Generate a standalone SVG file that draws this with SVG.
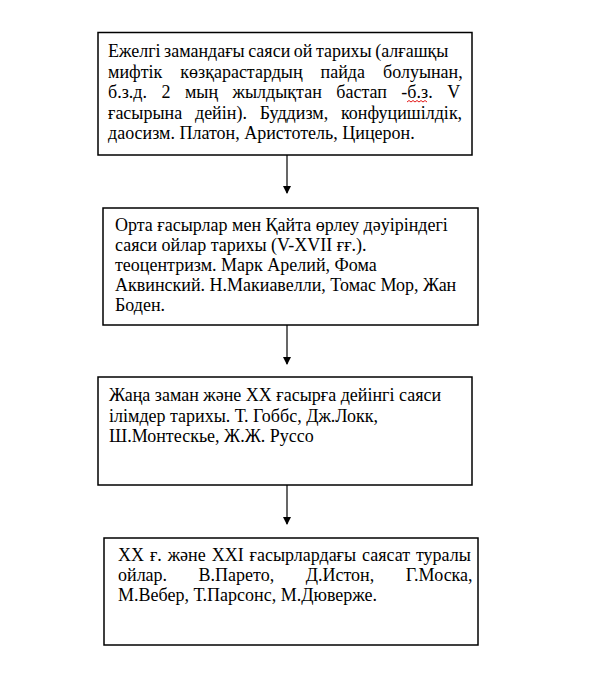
<svg xmlns="http://www.w3.org/2000/svg" width="592" height="673" viewBox="0 0 592 673">
<style>
.box{fill:#fff;stroke:#000;stroke-width:1.5}
.t{font-family:"Liberation Serif","Times New Roman",serif;font-size:18px;fill:#000}
.c{stroke:#000;stroke-width:1.2;fill:none}
</style>
<defs><marker id="ah" markerWidth="8" markerHeight="10" refX="7" refY="4" orient="auto" markerUnits="userSpaceOnUse"><path d="M0,0 L8,4 L0,8 z" fill="#000"/></marker></defs>
<rect width="592" height="673" fill="#fff"/>
<g id="node1">
<rect class="box" x="98" y="32.5" width="374" height="122.5"/>
<text class="t" x="108" y="57" word-spacing="-1">Ежелгі замандағы саяси ой тарихы (алғашқы</text>
<text class="t" x="108" y="77.5" word-spacing="13.5">мифтік көзқарастардың пайда болуынан,</text>
<text class="t" x="108" y="98" word-spacing="10">б.з.д. 2 мың жылдықтан бастап -б.з. V</text>
<text class="t" x="108" y="118.5" word-spacing="8.3">ғасырына дейін). Буддизм, конфуцишілдік,</text>
<text class="t" x="108" y="139">даосизм. Платон, Аристотель, Цицерон.</text>
<path d="M407,102 l2,-1.5 l2,1.5 l2,-1.5 l2,1.5 l2,-1.5 l2,1.5 l2,-1.5 l2,1.5 l2,-1.5 l2,1.5" fill="none" stroke="#e00000" stroke-width="0.9"/>
</g>
<g id="node2">
<rect class="box" x="103" y="208" width="375" height="117"/>
<text class="t" x="115" y="231">Орта ғасырлар мен Қайта өрлеу дәуіріндегі</text>
<text class="t" x="115" y="251">саяси ойлар тарихы (V-XVII ғғ.).</text>
<text class="t" x="115" y="271">теоцентризм. Марк Арелий, Фома</text>
<text class="t" x="115" y="291">Аквинский. Н.Макиавелли, Томас Мор, Жан</text>
<text class="t" x="115" y="311">Боден.</text>
</g>
<g id="node3">
<rect class="box" x="98" y="377" width="374" height="108"/>
<text class="t" x="109" y="401">Жаңа заман және XX ғасырға дейінгі саяси</text>
<text class="t" x="109" y="421.5">ілімдер тарихы. Т. Гоббс, Дж.Локк,</text>
<text class="t" x="109" y="442">Ш.Монтескье, Ж.Ж. Руссо</text>
</g>
<g id="node4">
<rect class="box" x="104" y="538" width="374" height="107"/>
<text class="t" x="118" y="561" word-spacing="1.4">XX ғ. және XXI ғасырлардағы саясат туралы</text>
<text class="t" x="118" y="581" word-spacing="27">ойлар. В.Парето, Д.Истон, Г.Моска,</text>
<text class="t" x="118" y="601">М.Вебер, Т.Парсонс, М.Дюверже.</text>
</g>
<g id="connectors">
<line class="c" x1="287" y1="155" x2="287" y2="193" marker-end="url(#ah)"/>
<line class="c" x1="287" y1="325" x2="287" y2="364" marker-end="url(#ah)"/>
<line class="c" x1="287" y1="485" x2="287" y2="524" marker-end="url(#ah)"/>
</g>
</svg>
